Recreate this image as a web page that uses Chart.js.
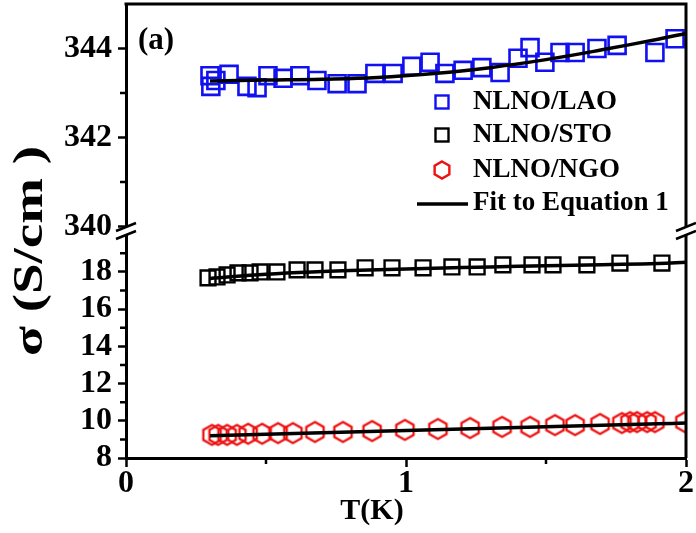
<!DOCTYPE html>
<html><head><meta charset="utf-8">
<script src="https://cdn.jsdelivr.net/npm/chart.js@4"></script>
<style>html,body{margin:0;padding:0;background:#fff}#wrap{width:696px;height:533px}</style>
</head><body><div id="wrap"><canvas id="c" width="696" height="533"></canvas></div>
<script>
// ---------- data ----------
const laoT = [0.300,0.303,0.321,0.368,0.432,0.468,0.507,0.561,0.621,0.682,0.754,0.825,0.889,0.954,1.021,1.086,1.139,1.204,1.271,1.336,1.400,1.443,1.496,1.550,1.604,1.682,1.754,1.889,1.961];
const laoSigma = [343.39,343.15,343.28,343.42,343.15,343.12,343.39,343.33,343.39,343.28,343.21,343.21,343.44,343.44,343.60,343.69,343.44,343.51,343.57,343.46,343.78,344.02,343.69,343.91,343.91,344.00,344.07,343.91,344.22];
const stoT = [0.293,0.325,0.361,0.400,0.443,0.479,0.539,0.611,0.675,0.757,0.854,0.950,1.061,1.164,1.254,1.346,1.450,1.525,1.646,1.764,1.914];
const stoSigma = [17.68,17.73,17.84,17.95,17.95,18.00,18.00,18.11,18.11,18.11,18.22,18.22,18.22,18.27,18.27,18.38,18.38,18.38,18.38,18.48,18.48];
const ngoT = [0.307,0.329,0.361,0.396,0.436,0.486,0.543,0.596,0.675,0.775,0.879,0.996,1.114,1.229,1.343,1.443,1.532,1.604,1.693,1.771,1.800,1.825,1.861,1.889,1.996];
const ngoSigma = [9.24,9.24,9.24,9.24,9.30,9.30,9.34,9.34,9.40,9.40,9.45,9.51,9.56,9.61,9.67,9.67,9.77,9.77,9.83,9.88,9.93,9.93,9.93,9.93,9.93];
const fitT = [0.3,0.5,0.7,0.9,1.1,1.3,1.5,1.7,1.9,2.0];
const fitLao = [343.27,343.29,343.31,343.35,343.44,343.57,343.75,343.97,344.21,344.34];
const fitSto = [17.65,17.88,18.02,18.12,18.20,18.27,18.33,18.39,18.45,18.52];
const fitNgo = [9.20,9.28,9.36,9.44,9.52,9.60,9.68,9.76,9.84,9.88];
const seriesLabels = ['NLNO/LAO','NLNO/STO','NLNO/NGO','Fit to Equation 1'];
const xMajor = [0,1,2], xMinor = [0.5,1.5];
const topMajor = [340,342,344], topMinor = [341,343];
const botMajor = [8,10,12,14,16,18], botMinor = [9,11,13,15,17,19];
const xTitle = 'T(K)';
const yTitle = 'σ (S/cm )';
const panelLabel = '(a)';

// ---------- styling ----------
const FONT = '"Liberation Serif", "Times New Roman", serif';
const BLUE = '#1010f0', RED = '#ee1111', BLACK = '#000';
const pts = (xs, ys) => xs.map((x, i) => ({x, y: ys[i]}));

function hexCanvas(r, lw, color) {
  const s = Math.ceil(2 * r + lw + 2);
  const c = document.createElement('canvas');
  c.width = c.height = s;
  const g = c.getContext('2d');
  g.strokeStyle = color; g.lineWidth = lw; g.lineJoin = 'miter';
  g.beginPath();
  for (let i = 0; i < 6; i++) {
    const a = (-90 + 60 * i) * Math.PI / 180;
    const px = s / 2 + r * Math.cos(a), py = s / 2 + r * Math.sin(a);
    i ? g.lineTo(px, py) : g.moveTo(px, py);
  }
  g.closePath(); g.stroke();
  return c;
}
const hexData = hexCanvas(10, 2.3, RED);
const hexLegend = hexCanvas(8.5, 2.4, RED);

const tickFont = {family: FONT, size: 32, weight: 'bold'};
function yAxis(min, max, major) {
  return {
    type: 'linear', position: 'left', stack: 'sigma', stackWeight: 1,
    min, max,
    afterBuildTicks: s => { s.ticks = major.map(v => ({value: v})); },
    afterFit: s => { s.width = 126; s.paddingTop = 0; s.paddingBottom = 0; s.paddingLeft = 0; s.paddingRight = 0; },
    grid: {display: true, drawOnChartArea: false, drawTicks: true, tickLength: 8, tickWidth: 2.5, tickColor: BLACK},
    border: {display: true, color: BLACK, width: 3},
    ticks: {color: BLACK, font: tickFont, padding: 6, autoSkip: false}
  };
}

const decor = {
  id: 'decor',
  beforeDraw(chart) {
    const ctx = chart.ctx;
    ctx.save(); ctx.fillStyle = '#fff'; ctx.fillRect(0, 0, chart.width, chart.height); ctx.restore();
  },
  afterDraw(chart) {
    const ctx = chart.ctx, ca = chart.chartArea;
    const sx = chart.scales.x, st = chart.scales.yTop, sb = chart.scales.yBot;
    ctx.save();
    ctx.strokeStyle = BLACK; ctx.lineCap = 'butt';
    // top & right frame
    ctx.lineWidth = 3;
    ctx.beginPath();
    ctx.moveTo(ca.left - 1.5, ca.top); ctx.lineTo(ca.right + 1.5, ca.top);
    ctx.moveTo(ca.right, ca.top); ctx.lineTo(ca.right, ca.bottom);
    ctx.stroke();
    // minor ticks
    ctx.lineWidth = 2.5;
    ctx.beginPath();
    xMinor.forEach(v => { const p = sx.getPixelForValue(v); ctx.moveTo(p, ca.bottom); ctx.lineTo(p, ca.bottom + 6); });
    topMinor.forEach(v => { const p = st.getPixelForValue(v); ctx.moveTo(ca.left, p); ctx.lineTo(ca.left - 6, p); });
    botMinor.forEach(v => { const p = sb.getPixelForValue(v); ctx.moveTo(ca.left, p); ctx.lineTo(ca.left - 6, p); });
    ctx.stroke();
    // axis breaks
    const yb = st.bottom;
    [ca.left, ca.right].forEach(ax => {
      const w = 10, d = 4, rise = 4;
      ctx.fillStyle = '#fff';
      ctx.beginPath();
      ctx.moveTo(ax - w, yb - d + rise); ctx.lineTo(ax + w, yb - d - rise);
      ctx.lineTo(ax + w, yb + d - rise); ctx.lineTo(ax - w, yb + d + rise);
      ctx.closePath(); ctx.fill();
      ctx.lineWidth = 2.5;
      ctx.beginPath();
      ctx.moveTo(ax - w, yb - d + rise); ctx.lineTo(ax + w, yb - d - rise);
      ctx.moveTo(ax - w, yb + d + rise); ctx.lineTo(ax + w, yb + d - rise);
      ctx.stroke();
    });
    // legend
    ctx.fillStyle = BLACK;
    ctx.font = 'bold 27px ' + FONT;
    ctx.textBaseline = 'middle'; ctx.textAlign = 'left';
    const lx = 442, tx = 473, rows = [102, 135, 170, 203];
    ctx.lineWidth = 2.4;
    ctx.strokeStyle = BLUE; ctx.strokeRect(lx - 6.5, rows[0] - 6.5, 13, 13);
    ctx.strokeStyle = BLACK; ctx.strokeRect(lx - 6.5, rows[1] - 6.5, 13, 13);
    ctx.drawImage(hexLegend, lx - hexLegend.width / 2, rows[2] - hexLegend.height / 2);
    ctx.lineWidth = 3.5; ctx.strokeStyle = BLACK;
    ctx.beginPath(); ctx.moveTo(417, rows[3] + 1); ctx.lineTo(468, rows[3] + 1); ctx.stroke();
    seriesLabels.forEach((t, i) => ctx.fillText(t, tx, rows[i]));
    // panel label
    ctx.font = 'bold 31px ' + FONT;
    ctx.fillText(panelLabel, 138, 41);
    // x title
    ctx.font = 'bold 30px ' + FONT;
    ctx.textAlign = 'center';
    ctx.fillText(xTitle, 372, 511);
    // y title (rotated)
    ctx.font = 'bold 42px ' + FONT;
    const w = ctx.measureText(yTitle).width;
    ctx.translate(31, 251);
    ctx.rotate(-Math.PI / 2);
    ctx.scale(210 / w, 1);
    ctx.fillText(yTitle, 0, 0);
    ctx.restore();
  }
};

new Chart(document.getElementById('c'), {
  type: 'scatter',
  data: {
    datasets: [
      {label: seriesLabels[3], data: pts(fitT, fitLao), yAxisID: 'yTop', showLine: true, pointRadius: 0, borderColor: BLACK, borderWidth: 3.5, tension: 0.4, order: 1, clip: 0},
      {label: seriesLabels[3], data: pts(fitT, fitSto), yAxisID: 'yBot', showLine: true, pointRadius: 0, borderColor: BLACK, borderWidth: 3.5, tension: 0.4, order: 1, clip: 0},
      {label: seriesLabels[3], data: pts(fitT, fitNgo), yAxisID: 'yBot', showLine: true, pointRadius: 0, borderColor: BLACK, borderWidth: 3.5, tension: 0.4, order: 1, clip: 0},
      {label: seriesLabels[0], data: pts(laoT, laoSigma), yAxisID: 'yTop', pointStyle: 'rect', pointRadius: 12, borderColor: BLUE, backgroundColor: 'rgba(0,0,0,0)', borderWidth: 2.6, order: 2, clip: 0},
      {label: seriesLabels[1], data: pts(stoT, stoSigma), yAxisID: 'yBot', pointStyle: 'rect', pointRadius: 10.5, borderColor: BLACK, backgroundColor: 'rgba(0,0,0,0)', borderWidth: 2.4, order: 2, clip: 0},
      {label: seriesLabels[2], data: pts(ngoT, ngoSigma), yAxisID: 'yBot', pointStyle: hexData, pointRadius: 10, borderColor: RED, backgroundColor: 'rgba(0,0,0,0)', order: 2, clip: 0}
    ]
  },
  options: {
    responsive: false, animation: false,
    layout: {padding: {left: 0, right: 10, top: 4, bottom: 0}, autoPadding: false},
    plugins: {legend: {display: false}, tooltip: {enabled: false}},
    scales: {
      x: {
        type: 'linear', position: 'bottom', min: 0, max: 2,
        afterBuildTicks: s => { s.ticks = xMajor.map(v => ({value: v})); },
        afterFit: s => { s.height = 75; s.paddingLeft = 0; s.paddingRight = 0; s.paddingTop = 0; s.paddingBottom = 0; },
        grid: {display: true, drawOnChartArea: false, drawTicks: true, tickLength: 9, tickWidth: 2.5, tickColor: BLACK},
        border: {display: true, color: BLACK, width: 3},
        ticks: {color: BLACK, font: tickFont, padding: -2, maxRotation: 0, autoSkip: false}
      },
      yBot: yAxis(8, 20.2, botMajor),
      yTop: yAxis(339.9, 345, topMajor)
    }
  },
  plugins: [decor]
});
</script></body></html>
